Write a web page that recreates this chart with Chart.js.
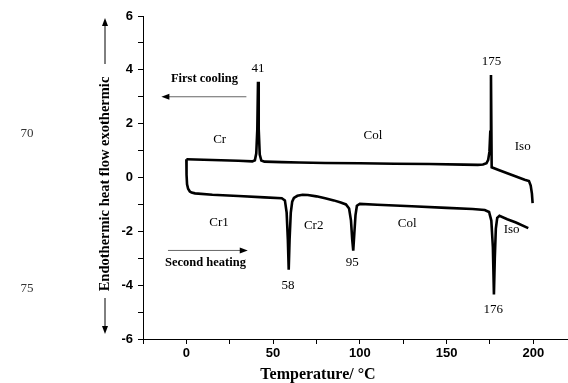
<!DOCTYPE html>
<html>
<head>
<meta charset="utf-8">
<script src="https://cdn.jsdelivr.net/npm/chart.js@4"></script>
<style>
  html, body { margin: 0; padding: 0; background: #fff; }
  #dscChart { display: block; }
</style>
</head>
<body>
<canvas id="dscChart" width="568" height="383"></canvas>
<script>
// first cooling run (temperature in °C, heat flow)
const coolT = [0, 10, 20, 30, 38, 39.5, 40.3, 40.9, 41.3, 41.7, 42.3, 43.2, 45, 55, 65, 80, 100, 120, 140, 160, 168, 171, 173, 174, 174.7, 175.2, 175.6, 176.0, 180, 185, 190, 195, 197.5, 198.5, 199.2, 199.6];
const coolHF = [0.68, 0.66, 0.64, 0.62, 0.6, 0.64, 0.9, 1.8, 3.56, 1.8, 0.85, 0.63, 0.59, 0.57, 0.56, 0.54, 0.53, 0.51, 0.5, 0.48, 0.47, 0.48, 0.53, 0.66, 0.95, 1.7, 3.81, 0.38, 0.28, 0.16, 0.04, -0.08, -0.13, -0.3, -0.6, -0.95];

// second heating run
const heatT = [0, 0.1, 0.4, 1, 2, 3, 5, 15, 30, 45, 55, 56.8, 57.8, 58.5, 59, 59.5, 60.2, 61, 62, 64, 67, 70, 75, 80, 85, 89, 92, 93.8, 94.9, 95.6, 96.2, 96.8, 97.5, 98.3, 100, 110, 130, 150, 165, 172, 174.5, 175.8, 176.7, 177.3, 177.8, 178.4, 179.2, 180.5, 185, 190, 197.1];
const heatHF = [0.68, 0.1, -0.25, -0.42, -0.52, -0.56, -0.59, -0.64, -0.69, -0.74, -0.77, -0.85, -1.3, -2.3, -3.43, -2.3, -1.3, -0.9, -0.76, -0.68, -0.64, -0.65, -0.7, -0.77, -0.85, -0.93, -1.0, -1.15, -1.6, -2.3, -2.72, -2.1, -1.4, -1.05, -0.98, -1.01, -1.07, -1.13, -1.17, -1.21, -1.28, -1.6, -2.6, -4.35, -3.0, -1.9, -1.5, -1.42, -1.55, -1.67, -1.88];

// axis ticks
const xTicks = [0, 50, 100, 150, 200];
const yTicks = [-6, -4, -2, 0, 2, 4, 6];
const xMinor = [-25, 25, 75, 125, 175];
const yMinor = [-5, -3, -1, 1, 3, 5];

// phase labels and peak temperatures
const phaseLabels = ['Cr', 'Col', 'Iso', 'Cr1', 'Cr2', 'Col', 'Iso'];
const peakLabels = ['41', '175', '58', '95', '176'];

const serif = '"Liberation Serif", "Times New Roman", serif';
const sans = '"Liberation Sans", Arial, sans-serif';

function toPoints(xs, ys) {
    return xs.map((x, i) => ({ x: x, y: ys[i] }));
}

function drawArrow(ctx, x1, y1, x2, y2, color) {
    const ang = Math.atan2(y2 - y1, x2 - x1);
    ctx.strokeStyle = color;
    ctx.fillStyle = '#000';
    ctx.lineWidth = 1;
    ctx.beginPath();
    ctx.moveTo(x1, y1);
    ctx.lineTo(x2 - 6 * Math.cos(ang), y2 - 6 * Math.sin(ang));
    ctx.stroke();
    ctx.beginPath();
    ctx.moveTo(x2, y2);
    ctx.lineTo(x2 - 8 * Math.cos(ang) + 3 * Math.sin(ang), y2 - 8 * Math.sin(ang) - 3 * Math.cos(ang));
    ctx.lineTo(x2 - 8 * Math.cos(ang) - 3 * Math.sin(ang), y2 - 8 * Math.sin(ang) + 3 * Math.cos(ang));
    ctx.closePath();
    ctx.fill();
}

// text, arrows and axis titles on top of the plot
const dscText = {
    id: 'dscText',
    afterDraw(chart) {
        const ctx = chart.ctx;
        const x = chart.scales.x;
        const y = chart.scales.y;
        const at = (tx, ty) => [x.getPixelForValue(tx), y.getPixelForValue(ty)];
        ctx.save();
        ctx.textAlign = 'center';
        ctx.textBaseline = 'middle';
        ctx.fillStyle = '#000';

        ctx.font = '13px ' + serif;
        const phasePos = [[19.2, 1.4], [107.5, 1.56], [193.9, 1.15], [18.8, -1.67], [73.4, -1.78], [127.3, -1.72], [187.5, -1.94]];
        phaseLabels.forEach((t, i) => {
            const p = at(phasePos[i][0], phasePos[i][1]);
            ctx.fillText(t, p[0], p[1]);
        });
        const peakPos = [[41.3, 4.03], [175.9, 4.31], [58.6, -4.02], [95.6, -3.16], [176.9, -4.91]];
        peakLabels.forEach((t, i) => {
            const p = at(peakPos[i][0], peakPos[i][1]);
            ctx.fillText(t, p[0], p[1]);
        });

        ctx.font = 'bold 12.5px ' + serif;
        let p = at(10.4, 3.65);
        ctx.fillText('First cooling', p[0], p[1]);
        p = at(11, -3.18);
        ctx.fillText('Second heating', p[0], p[1]);

        let a = at(34.6, 3.0), b = at(-14.4, 3.0);
        drawArrow(ctx, a[0], a[1], b[0], b[1], '#666');
        a = at(-10.6, -2.71); b = at(35.4, -2.71);
        drawArrow(ctx, a[0], a[1], b[0], b[1], '#666');

        // x axis title
        ctx.font = 'bold 16px ' + serif;
        ctx.fillText('Temperature/ \u00B0C', 318, 375);

        // y axis title with arrows
        ctx.save();
        ctx.translate(105, 184);
        ctx.rotate(-Math.PI / 2);
        ctx.font = 'bold 14.5px ' + serif;
        ctx.fillText('Endothermic heat flow exothermic', 0, 0);
        ctx.restore();
        drawArrow(ctx, 105, 64, 105, 18, '#000');
        drawArrow(ctx, 105, 298, 105, 334, '#000');

        // stray line numbers at the margin
        ctx.font = '13px ' + serif;
        ctx.fillStyle = '#333';
        ctx.fillText('70', 27, 134);
        ctx.fillText('75', 27, 289);
        ctx.restore();
    }
};

function axisTicks(major, minor) {
    return (scale) => {
        scale.ticks = major.concat(minor).sort((a, b) => a - b).map(v => ({ value: v }));
    };
}

document.addEventListener('DOMContentLoaded', () => {
    const ctx = document.getElementById('dscChart').getContext('2d');
    new Chart(ctx, {
        type: 'scatter',
        data: {
            datasets: [{
                label: 'First cooling',
                data: toPoints(coolT, coolHF),
                showLine: true,
                borderColor: '#000',
                borderWidth: 2.6,
                pointRadius: 0,
                tension: 0
            }, {
                label: 'Second heating',
                data: toPoints(heatT, heatHF),
                showLine: true,
                borderColor: '#000',
                borderWidth: 2.6,
                pointRadius: 0,
                tension: 0
            }]
        },
        options: {
            responsive: false,
            animation: false,
            layout: { padding: { top: 16, right: 0, left: 0, bottom: 0 } },
            plugins: {
                legend: { display: false },
                tooltip: { enabled: false }
            },
            scales: {
                x: {
                    type: 'linear',
                    min: -25,
                    max: 220,
                    afterBuildTicks: axisTicks(xTicks, xMinor),
                    afterFit: (s) => { s.height = 44; },
                    grid: { drawOnChartArea: false, tickLength: 5, tickColor: '#000' },
                    border: { color: '#000', width: 1 },
                    ticks: {
                        callback: (v) => xTicks.includes(v) ? String(v) : '',
                        autoSkip: false,
                        maxRotation: 0,
                        padding: 2,
                        color: '#000',
                        font: { family: sans, weight: 'bold', size: 13 }
                    }
                },
                y: {
                    min: -6,
                    max: 6,
                    afterBuildTicks: axisTicks(yTicks, yMinor),
                    afterFit: (s) => { s.width = 143; },
                    grid: { drawOnChartArea: false, tickLength: 5, tickColor: '#000' },
                    border: { color: '#000', width: 1 },
                    ticks: {
                        callback: (v) => yTicks.includes(v) ? String(v) : '',
                        autoSkip: false,
                        padding: 5,
                        color: '#000',
                        font: { family: sans, weight: 'bold', size: 13 }
                    }
                }
            }
        },
        plugins: [dscText]
    });
});
</script>
</body>
</html>
